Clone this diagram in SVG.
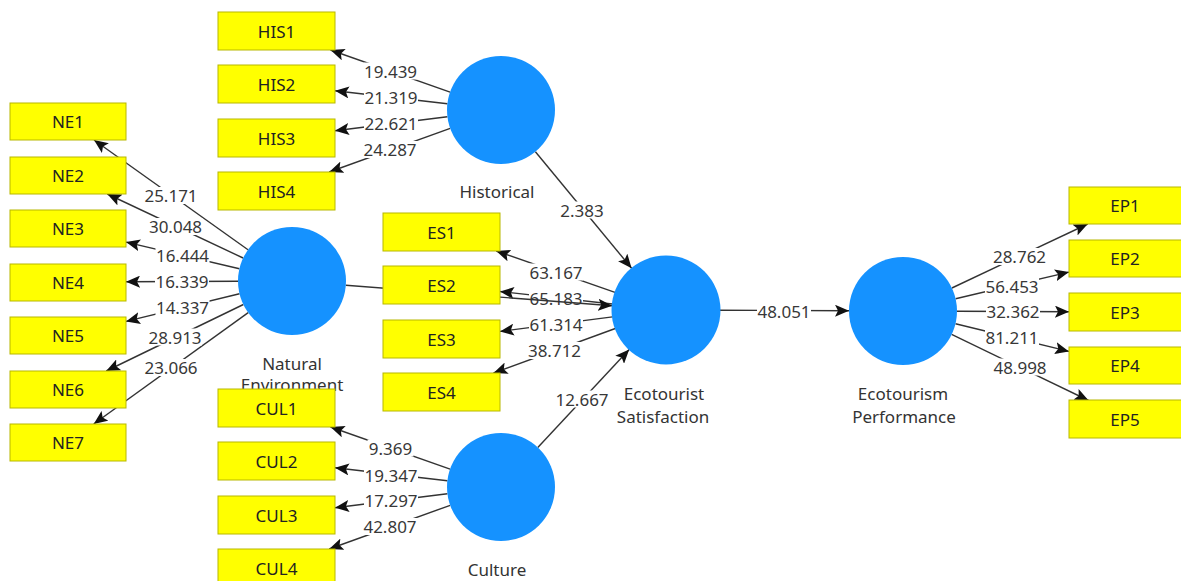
<svg xmlns="http://www.w3.org/2000/svg" width="1181" height="581" viewBox="0 0 1181 581">
<style>
.box{fill:#ffff00;stroke:#b8b800;stroke-width:1}
.bt{font-family:"Noto Sans",sans-serif;font-size:17px;fill:#222;text-anchor:middle;dominant-baseline:central}
.lv{fill:#1592ff}
.lt{font-family:"Noto Sans",sans-serif;font-size:17px;fill:#333;text-anchor:middle;dominant-baseline:central}
.c{stroke:#333;stroke-width:1.4;fill:none;marker-end:url(#ah)}
.bg{fill:#fff}
.n{font-family:"Noto Sans",sans-serif;font-size:17px;fill:#383838;text-anchor:middle;dominant-baseline:central}
</style>
<defs>
<marker id="ah" markerUnits="userSpaceOnUse" viewBox="0 0 14 12" refX="14" refY="6" markerWidth="14" markerHeight="12" orient="auto">
<path d="M0,0 L14,6 L0,12 L3,6 z" fill="#111"/>
</marker>
</defs>
<rect width="1181" height="581" fill="#fff"/>
<g id="connectors">
<line class="c" x1="248" y1="249.7" x2="94" y2="140"/>
<line class="c" x1="243.1" y1="258" x2="107.3" y2="194"/>
<line class="c" x1="239.4" y1="268.7" x2="126" y2="242.1"/>
<line class="c" x1="238" y1="281.2" x2="126" y2="281.7"/>
<line class="c" x1="239.5" y1="293.8" x2="126" y2="321.4"/>
<line class="c" x1="243.4" y1="304.5" x2="106.2" y2="371"/>
<line class="c" x1="248.2" y1="312.6" x2="93.7" y2="424"/>
<line class="c" x1="450.1" y1="92.1" x2="330.5" y2="50"/>
<line class="c" x1="447.4" y1="103.8" x2="335" y2="90.8"/>
<line class="c" x1="447.4" y1="116.7" x2="335" y2="130.7"/>
<line class="c" x1="450.2" y1="128.3" x2="329.2" y2="172"/>
<line class="c" x1="535.4" y1="151.7" x2="631.6" y2="268.3"/>
<line class="c" x1="615" y1="292.3" x2="496.2" y2="251"/>
<line class="c" x1="612.3" y1="304" x2="500" y2="291.5"/>
<line class="c" x1="612.5" y1="316.9" x2="500" y2="331.4"/>
<line class="c" x1="615.3" y1="328.5" x2="493.5" y2="373"/>
<line class="c" x1="537.8" y1="447.5" x2="629.2" y2="349.5"/>
<line class="c" x1="450.1" y1="469.1" x2="330.5" y2="427"/>
<line class="c" x1="447.4" y1="480.8" x2="335" y2="467.8"/>
<line class="c" x1="447.4" y1="493.7" x2="335" y2="507.7"/>
<line class="c" x1="450.2" y1="505.3" x2="329.2" y2="549"/>
<line class="c" x1="720" y1="310.2" x2="849" y2="310.8"/>
<line class="c" x1="951.9" y1="288" x2="1087.7" y2="224"/>
<line class="c" x1="955.6" y1="298.7" x2="1069" y2="272.1"/>
<line class="c" x1="957" y1="311.2" x2="1069" y2="311.7"/>
<line class="c" x1="955.5" y1="323.8" x2="1069" y2="351.4"/>
<line class="c" x1="951.6" y1="334.4" x2="1088.6" y2="400.5"/>
<rect class="bg" x="144" y="187" width="54" height="17"/><text class="n" x="171" y="195.5">25.171</text>
<rect class="bg" x="148.5" y="218" width="54" height="17"/><text class="n" x="175.5" y="226.5">30.048</text>
<rect class="bg" x="155.5" y="246.5" width="54" height="17"/><text class="n" x="182.5" y="255">16.444</text>
<rect class="bg" x="155" y="273" width="54" height="17"/><text class="n" x="182" y="281.5">16.339</text>
<rect class="bg" x="155.5" y="299" width="54" height="17"/><text class="n" x="182.5" y="307.5">14.337</text>
<rect class="bg" x="148" y="328.5" width="54" height="17"/><text class="n" x="175" y="337">28.913</text>
<rect class="bg" x="144" y="359" width="54" height="17"/><text class="n" x="171" y="367.5">23.066</text>
<rect class="bg" x="363.5" y="62.5" width="54" height="17"/><text class="n" x="390.5" y="71">19.439</text>
<rect class="bg" x="364" y="89" width="54" height="17"/><text class="n" x="391" y="97.5">21.319</text>
<rect class="bg" x="364" y="114.5" width="54" height="17"/><text class="n" x="391" y="123">22.621</text>
<rect class="bg" x="363" y="141" width="54" height="17"/><text class="n" x="390" y="149.5">24.287</text>
<rect class="bg" x="559" y="201.5" width="46" height="17"/><text class="n" x="582" y="210">2.383</text>
<rect class="bg" x="529" y="263.5" width="54" height="17"/><text class="n" x="556" y="272">63.167</text>
<rect class="bg" x="529" y="289.5" width="54" height="17"/><text class="n" x="556" y="298">65.183</text>
<rect class="bg" x="529" y="315.5" width="54" height="17"/><text class="n" x="556" y="324">61.314</text>
<rect class="bg" x="527.5" y="342" width="54" height="17"/><text class="n" x="554.5" y="350.5">38.712</text>
<rect class="bg" x="555" y="390.5" width="54" height="17"/><text class="n" x="582" y="399">12.667</text>
<rect class="bg" x="367.5" y="439.5" width="46" height="17"/><text class="n" x="390.5" y="448">9.369</text>
<rect class="bg" x="364" y="466.5" width="54" height="17"/><text class="n" x="391" y="475">19.347</text>
<rect class="bg" x="364" y="491.5" width="54" height="17"/><text class="n" x="391" y="500">17.297</text>
<rect class="bg" x="363" y="518" width="54" height="17"/><text class="n" x="390" y="526.5">42.807</text>
<rect class="bg" x="757" y="302.5" width="54" height="17"/><text class="n" x="784" y="311">48.051</text>
<rect class="bg" x="992.5" y="248" width="54" height="17"/><text class="n" x="1019.5" y="256.5">28.762</text>
<rect class="bg" x="985" y="277.5" width="54" height="17"/><text class="n" x="1012" y="286">56.453</text>
<rect class="bg" x="986" y="303" width="54" height="17"/><text class="n" x="1013" y="311.5">32.362</text>
<rect class="bg" x="985" y="329" width="54" height="17"/><text class="n" x="1012" y="337.5">81.211</text>
<rect class="bg" x="993" y="358.5" width="54" height="17"/><text class="n" x="1020" y="367">48.998</text>
<line class="c" x1="345.8" y1="285.2" x2="612.2" y2="305.8"/>
</g>
<g id="natural-environment"><circle class="lv" cx="292" cy="281" r="54"/><text class="lt" x="292" y="363">Natural</text><text class="lt" x="292" y="384">Environment</text></g>
<g id="historical"><circle class="lv" cx="501" cy="110" r="54"/><text class="lt" x="497" y="191">Historical</text></g>
<g id="ecotourist-satisfaction"><circle class="lv" cx="666" cy="310" r="54.5"/><text class="lt" x="664" y="393">Ecotourist</text><text class="lt" x="663" y="416">Satisfaction</text></g>
<g id="culture"><circle class="lv" cx="501" cy="487" r="54"/><text class="lt" x="497" y="569">Culture</text></g>
<g id="ecotourism-performance"><circle class="lv" cx="903" cy="311" r="54"/><text class="lt" x="903" y="393">Ecotourism</text><text class="lt" x="904" y="416">Performance</text></g>
<g id="NE1"><rect class="box" x="10" y="103" width="116" height="37"/><text class="bt" x="68" y="121.5">NE1</text></g>
<g id="NE2"><rect class="box" x="10" y="157" width="116" height="37"/><text class="bt" x="68" y="175.5">NE2</text></g>
<g id="NE3"><rect class="box" x="10" y="210" width="116" height="37"/><text class="bt" x="68" y="228.5">NE3</text></g>
<g id="NE4"><rect class="box" x="10" y="264" width="116" height="37"/><text class="bt" x="68" y="282.5">NE4</text></g>
<g id="NE5"><rect class="box" x="10" y="317" width="116" height="37"/><text class="bt" x="68" y="335.5">NE5</text></g>
<g id="NE6"><rect class="box" x="10" y="371" width="116" height="37"/><text class="bt" x="68" y="389.5">NE6</text></g>
<g id="NE7"><rect class="box" x="10" y="424" width="116" height="37"/><text class="bt" x="68" y="442.5">NE7</text></g>
<g id="HIS1"><rect class="box" x="218" y="12" width="117" height="38"/><text class="bt" x="276.5" y="31">HIS1</text></g>
<g id="HIS2"><rect class="box" x="218" y="65" width="117" height="38"/><text class="bt" x="276.5" y="84">HIS2</text></g>
<g id="HIS3"><rect class="box" x="218" y="119" width="117" height="38"/><text class="bt" x="276.5" y="138">HIS3</text></g>
<g id="HIS4"><rect class="box" x="218" y="172" width="117" height="38"/><text class="bt" x="276.5" y="191">HIS4</text></g>
<g id="ES1"><rect class="box" x="383" y="213" width="117" height="38"/><text class="bt" x="441.5" y="232">ES1</text></g>
<g id="ES2"><rect class="box" x="383" y="266" width="117" height="38"/><text class="bt" x="441.5" y="285">ES2</text></g>
<g id="ES3"><rect class="box" x="383" y="320" width="117" height="38"/><text class="bt" x="441.5" y="339">ES3</text></g>
<g id="ES4"><rect class="box" x="383" y="373" width="117" height="38"/><text class="bt" x="441.5" y="392">ES4</text></g>
<g id="CUL1"><rect class="box" x="218" y="389" width="117" height="38"/><text class="bt" x="276.5" y="408">CUL1</text></g>
<g id="CUL2"><rect class="box" x="218" y="442" width="117" height="38"/><text class="bt" x="276.5" y="461">CUL2</text></g>
<g id="CUL3"><rect class="box" x="218" y="496" width="117" height="38"/><text class="bt" x="276.5" y="515">CUL3</text></g>
<g id="CUL4"><rect class="box" x="218" y="549" width="117" height="38"/><text class="bt" x="276.5" y="568">CUL4</text></g>
<g id="EP1"><rect class="box" x="1069" y="187" width="116" height="37"/><text class="bt" x="1125" y="205.5">EP1</text></g>
<g id="EP2"><rect class="box" x="1069" y="240" width="116" height="37"/><text class="bt" x="1125" y="258.5">EP2</text></g>
<g id="EP3"><rect class="box" x="1069" y="293" width="116" height="38"/><text class="bt" x="1125" y="312">EP3</text></g>
<g id="EP4"><rect class="box" x="1069" y="347" width="116" height="37"/><text class="bt" x="1125" y="365.5">EP4</text></g>
<g id="EP5"><rect class="box" x="1069" y="400" width="116" height="38"/><text class="bt" x="1125" y="419">EP5</text></g>
</svg>
